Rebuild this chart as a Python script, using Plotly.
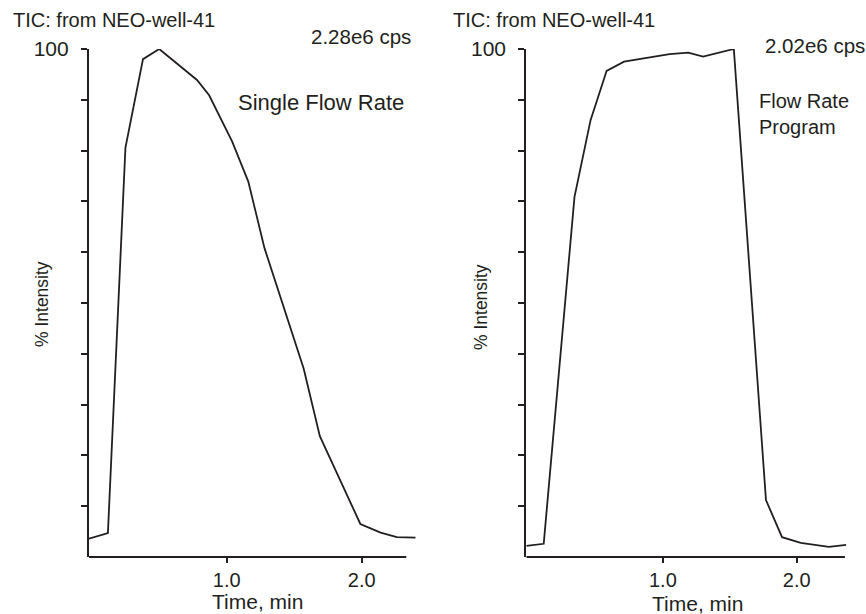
import plotly.graph_objects as go

# Total ion chromatograms, % intensity vs. time (min)
single_time = [-0.02, 0.12, 0.25, 0.38, 0.50, 0.78, 0.87, 1.04, 1.16, 1.28, 1.57, 1.69, 1.99, 2.14, 2.26, 2.40]
single_int = [3.6, 4.7, 80.6, 98.0, 100.0, 93.9, 90.9, 81.8, 73.9, 60.8, 37.1, 23.8, 6.5, 4.8, 3.9, 3.8]

program_time = [-0.02, 0.11, 0.34, 0.46, 0.58, 0.71, 1.05, 1.19, 1.30, 1.53, 1.77, 1.89, 2.03, 2.24, 2.37]
program_int = [2.2, 2.6, 70.9, 86.0, 95.7, 97.5, 99.0, 99.3, 98.5, 100.0, 11.2, 3.9, 2.8, 2.0, 2.4]

y_ticks = [10, 20, 30, 40, 50, 60, 70, 80, 90, 100]
y_labels = ["", "", "", "", "", "", "", "", "", "100"]
x_ticks = [1.0, 2.0]
x_labels = ["1.0", "2.0"]

INK = "#231f20"
FONT = "Liberation Sans, Arial, sans-serif"
W, H = 866, 614

fig = go.Figure()
fig.add_trace(go.Scatter(x=single_time, y=single_int, mode="lines",
                         line=dict(color=INK, width=1.8), xaxis="x", yaxis="y",
                         showlegend=False, hoverinfo="skip"))
fig.add_trace(go.Scatter(x=program_time, y=program_int, mode="lines",
                         line=dict(color=INK, width=1.8), xaxis="x2", yaxis="y2",
                         showlegend=False, hoverinfo="skip"))

y_dom = [(H - 557) / H, (H - 49) / H]


def xaxis(domain, rng, anchor):
    return dict(domain=domain, range=rng, anchor=anchor, showline=False,
                showgrid=False, zeroline=False, tickvals=x_ticks, ticktext=x_labels,
                ticks="outside", ticklen=5, tickwidth=2, tickcolor=INK,
                tickfont=dict(family=FONT, size=20, color=INK), fixedrange=True,
                automargin=False)


def yaxis(anchor):
    return dict(domain=y_dom, range=[0, 100], anchor=anchor, showline=True,
                linecolor=INK, linewidth=2.2, showgrid=False, zeroline=False,
                tickvals=y_ticks, ticktext=y_labels, ticks="outside", ticklen=6,
                tickwidth=2, tickcolor=INK, ticklabelstandoff=8,
                tickfont=dict(family=FONT, size=21, color=INK), fixedrange=True,
                automargin=False)


fig.update_layout(
    width=W, height=H, margin=dict(l=0, r=0, t=0, b=0, autoexpand=False),
    paper_bgcolor="white", plot_bgcolor="white",
    font=dict(family=FONT, color=INK),
    xaxis=xaxis([89 / W, 415.7 / W], [-0.02, 2.40], "y"),
    yaxis=yaxis("x"),
    xaxis2=xaxis([526.3 / W, 846.3 / W], [-0.02, 2.37], "y2"),
    yaxis2=yaxis("x2"),
)

# x-axis baselines stop short of the trace ends
fig.add_shape(type="line", xref="x", yref="y domain", x0=-0.02, x1=2.33, y0=0, y1=0,
              line=dict(color=INK, width=2.2))
fig.add_shape(type="line", xref="x2", yref="y2 domain", x0=-0.02, x1=2.36, y0=0, y1=0,
              line=dict(color=INK, width=2.2))


def label(text, x, y, size=20, xanchor="left", angle=0):
    fig.add_annotation(text=text, x=x / W, y=1 - y / H, xref="paper", yref="paper",
                       xanchor=xanchor, yanchor="middle", showarrow=False,
                       textangle=angle, font=dict(family=FONT, size=size, color=INK))


label("TIC: from NEO-well-41", 11, 20, size=20)
label("2.28e6 cps", 309, 36, size=20.5)
label("Single Flow Rate", 236, 103, size=22)
label("% Intensity", 42, 304, size=17.5, xanchor="center", angle=-90)
label("Time, min", 257, 601, size=21, xanchor="center")

label("TIC: from NEO-well-41", 451, 20, size=20)
label("2.02e6 cps", 763, 45, size=20.5)
fig.add_annotation(text="Flow Rate<br>Program", x=757 / W, y=1 - 88 / H, xref="paper",
                   yref="paper", xanchor="left", yanchor="top", align="left",
                   showarrow=False, font=dict(family=FONT, size=20, color=INK))
label("% Intensity", 481, 307, size=17.5, xanchor="center", angle=-90)
label("Time, min", 697, 603, size=21, xanchor="center")

fig.write_html("out.html")
